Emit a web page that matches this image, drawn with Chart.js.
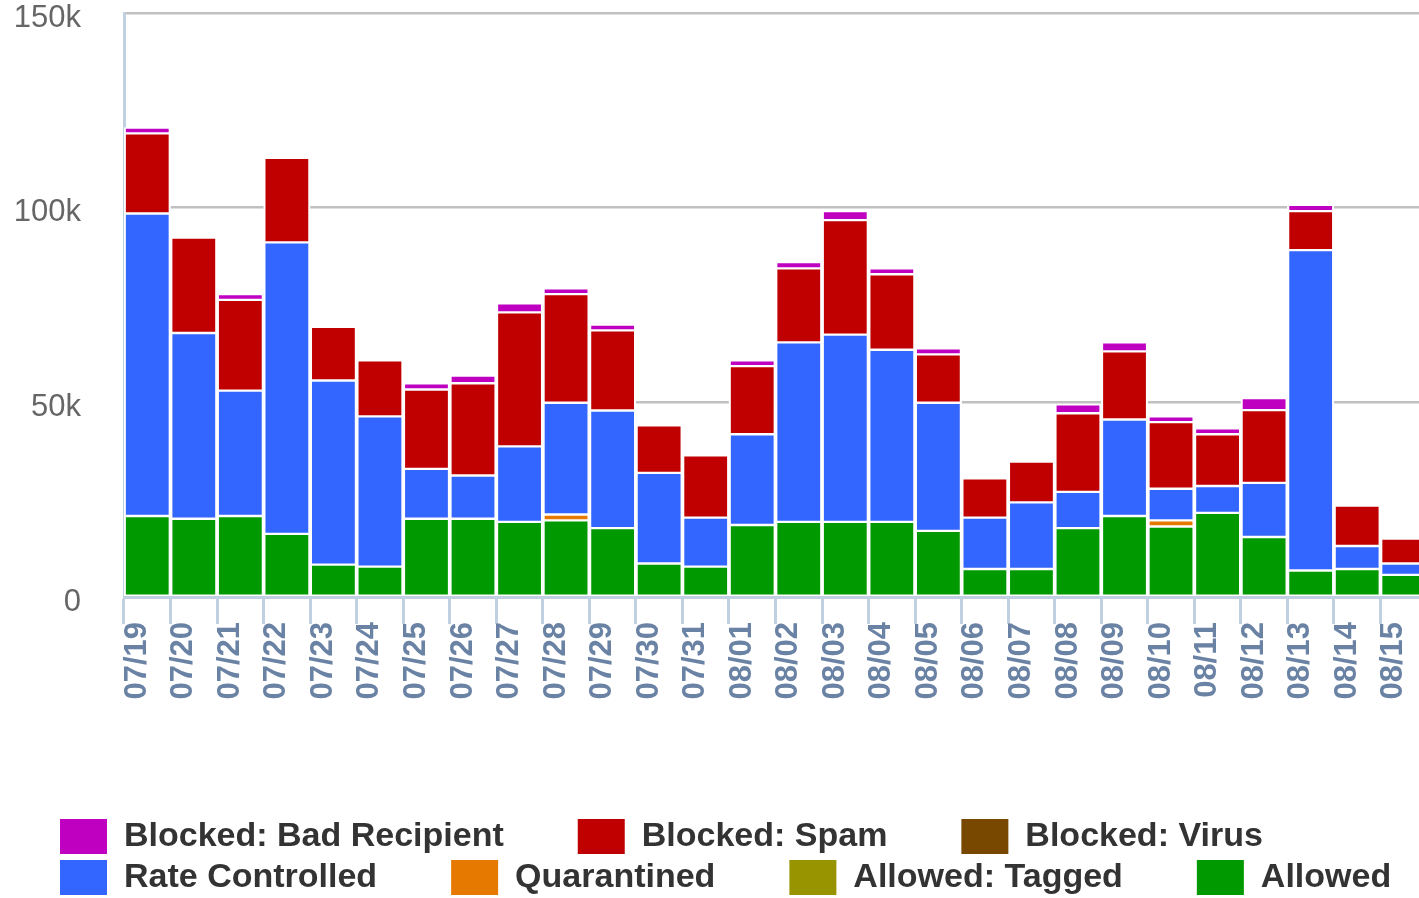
<!DOCTYPE html>
<html>
<head>
<meta charset="utf-8">
<title>Mail traffic</title>
<script src="https://cdn.jsdelivr.net/npm/chart.js@4/dist/chart.umd.min.js"></script>
<style>
  html, body { margin: 0; padding: 0; background: #fff; overflow: hidden; }
  #wrap { position: relative; width: 1427px; height: 905px; }
</style>
</head>
<body>
<div id="wrap"><canvas id="mailChart"></canvas></div>
<script>
var days = ["07/19","07/20","07/21","07/22","07/23","07/24","07/25","07/26","07/27","07/28","07/29","07/30","07/31",
  "08/01","08/02","08/03","08/04","08/05","08/06","08/07","08/08","08/09","08/10","08/11","08/12","08/13","08/14","08/15"];

// message counts per day
var allowed = [20800,20100,20800,16200,8300,7800,20100,20100,19300,19700,17700,8600,7800,
  18500,19300,19300,19300,17000,7200,7200,17700,20800,18100,21600,15400,6800,7200,5700];
var allowedTagged = [0,0,0,0,0,0,0,0,0,0,0,0,0,0,0,0,0,0,0,0,0,0,0,0,0,0,0,0];
var quarantined = [0,0,0,0,0,0,0,0,0,1500,0,0,0,0,0,0,0,0,0,0,0,0,1600,0,0,0,0,0];
var rateControlled = [77700,47700,32200,74900,47300,38600,12800,11100,19400,28700,30200,23300,12600,
  23300,46100,48100,44200,32900,13200,17100,9300,24800,8100,6900,13900,82300,5900,2900];
var blockedVirus = [0,0,0,0,0,0,0,0,0,0,0,0,0,0,0,0,0,0,0,0,0,0,0,0,0,0,0,0];
var blockedSpam = [20600,24500,23300,21700,13800,14400,20400,23700,34400,27900,20600,12200,16000,
  17500,19000,29400,19400,12400,10100,10500,20200,17500,17100,13300,18700,10000,10400,6400];
var badRecipient = [1500,0,1500,0,0,0,1600,2000,2300,1500,1500,0,0,
  1500,1600,2300,1500,1600,0,0,2300,2300,1500,1500,3100,1600,0,0];

var yTicks = [0,50000,100000,150000];

var seriesNames = ["Allowed","Allowed: Tagged","Quarantined","Rate Controlled","Blocked: Virus","Blocked: Spam","Blocked: Bad Recipient"];
var seriesData = [allowed,allowedTagged,quarantined,rateControlled,blockedVirus,blockedSpam,badRecipient];
var seriesColors = ["#009900","#989400","#e67a00","#3366ff","#784800","#c00000","#c000c0"];

Chart.defaults.font.family = "'Liberation Sans', Arial, sans-serif";

var datasets = [];
for (var i = 0; i < seriesNames.length; i++) {
  datasets.push({
    label: seriesNames[i],
    data: seriesData[i],
    backgroundColor: seriesColors[i],
    borderColor: "#ffffff",
    borderWidth: {top: 1.5, bottom: 1.5, left: 2.2, right: 2.2},
    borderSkipped: false,
    categoryPercentage: 1,
    barPercentage: 1
  });
}

// push the legend rows in from the left edge
var legendShift = {
  id: "legendShift",
  afterLayout: function(chart) {
    chart.legend.left += 54;
  }
};

var ctx = document.getElementById("mailChart");
var mailChart = new Chart(ctx, {
  type: "bar",
  data: { labels: days, datasets: datasets },
  plugins: [legendShift],
  options: {
    responsive: true,
    maintainAspectRatio: false,
    animation: false,
    devicePixelRatio: 1,
    layout: { padding: { top: 13, left: 0, right: 0, bottom: 0 } },
    plugins: {
      tooltip: { enabled: false },
      legend: {
        position: "bottom",
        align: "start",
        reverse: true,
        labels: {
          boxWidth: 47,
          boxHeight: 35,
          padding: 6,
          color: "#333333",
          font: { size: 34, weight: "bold" },
          generateLabels: function(chart) {
            var items = Chart.defaults.plugins.legend.labels.generateLabels(chart);
            items.forEach(function(item) {
              item.lineWidth = 0;
              if (item.datasetIndex !== 0) item.text = item.text + "\u2003\u2003";
            });
            return items;
          }
        }
      }
    },
    scales: {
      x: {
        stacked: true,
        grid: { drawOnChartArea: false, drawTicks: true, tickLength: 27, color: "#c0d0e0", lineWidth: 3, offset: true },
        border: { display: true, color: "#c0d0e0", width: 3, z: 1 },
        ticks: {
          autoSkip: false,
          maxRotation: 90,
          minRotation: 90,
          padding: -2,
          labelOffset: -10,
          color: "#6a82a4",
          font: { size: 31, weight: "bold" }
        },
        afterFit: function(s) {
          s.height = 216;
          s.paddingLeft = 0;
          s.paddingRight = 0;
        }
      },
      y: {
        stacked: true,
        min: 0,
        max: 150000,
        afterBuildTicks: function(s) {
          s.ticks = yTicks.map(function(v) { return {value: v}; });
        },
        grid: { color: "#c0c0c0", lineWidth: 2.6, drawTicks: false },
        border: { display: true, color: "#c0d0e0", width: 3 },
        ticks: {
          padding: 43,
          labelOffset: 5,
          color: "#666666",
          font: { size: 31 },
          callback: function(v) { return v === 0 ? "0" : (v / 1000) + "k"; }
        },
        afterFit: function(s) {
          s.width = 124;
          s.paddingTop = 0;
          s.paddingBottom = 0;
        }
      }
    }
  }
});
</script>
</body>
</html>
